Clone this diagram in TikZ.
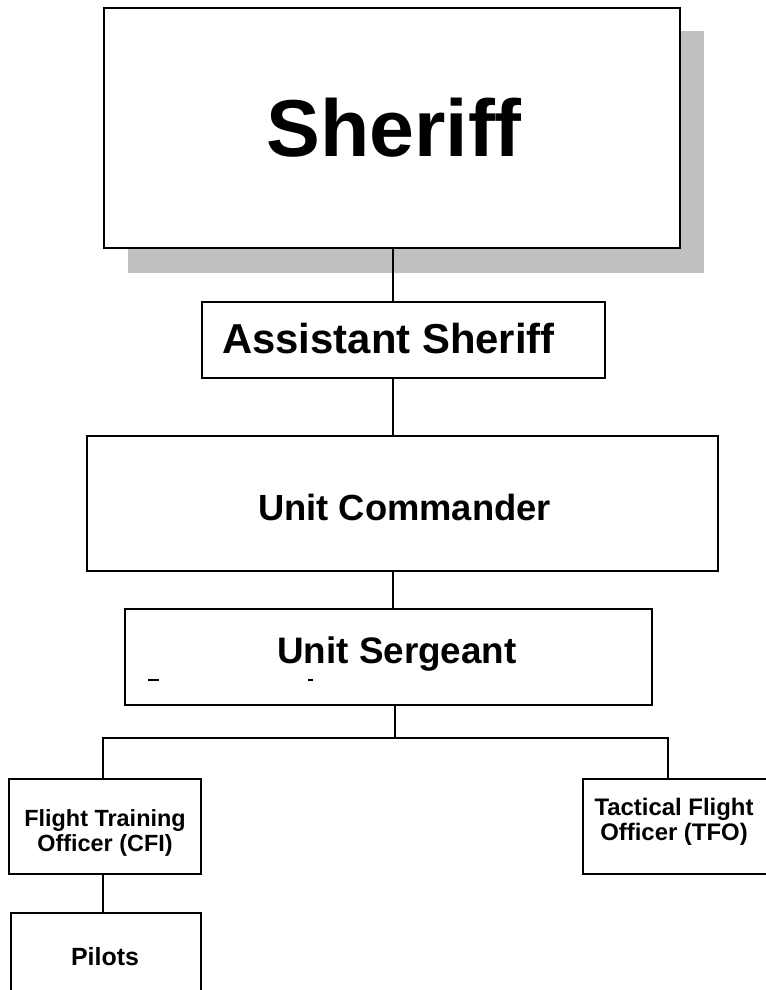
\documentclass[tikz,border=0pt]{standalone}
\usepackage{fontspec}
\setmainfont{Liberation Sans}
\definecolor{shadowgray}{HTML}{C0C0C0}
\tikzset{
  box/.style={draw=black, line width=2bp, fill=white},
  link/.style={draw=black, line width=1.5bp},
  lbl/.style={anchor=base, inner sep=0pt, font=\bfseries, align=center},
}
\begin{document}
\begin{tikzpicture}[x=1bp, y=-1bp]
\useasboundingbox (0,0) rectangle (766,990);
\clip (0,0) rectangle (766,990);
% shadow of Sheriff
\fill[shadowgray] (128,31) rectangle (704,273);
% boxes
\draw[box] (104,8) rectangle (680,248);
\draw[box] (202,302) rectangle (605,378);
\draw[box] (87,436) rectangle (718,571);
\draw[box] (125,609) rectangle (652,705);
\draw[box] (9,779) rectangle (201,874);
\draw[box] (583,779) rectangle (790,874);
\draw[box] (11,913) rectangle (201,1000);
% named anchor coordinates
\coordinate (sherB) at (393,248);
\coordinate (asstT) at (393,302);
\coordinate (asstB) at (393,378);
\coordinate (ucT) at (393,436);
\coordinate (ucB) at (393,571);
\coordinate (usT) at (393,609);
\coordinate (usB) at (395,705);
\coordinate (bus) at (395,738);
\coordinate (busL) at (103,738);
\coordinate (busR) at (668,738);
\coordinate (ftoT) at (103,779);
\coordinate (ftoB) at (103,874);
\coordinate (tfoT) at (668,779);
\coordinate (pilT) at (103,913);
% connectors
\draw[link] (sherB) -- (asstT);
\draw[link] (asstB) -- (ucT);
\draw[link] (ucB) -- (usT);
\draw[link] (usB) -- (bus);
\draw[link] (ftoT) -- (busL) -- (busR) -- (tfoT);
\draw[link] (ftoB) -- (pilT);
% labels
\node[lbl, font=\bfseries\fontsize{81}{90}\selectfont] (sheriff) at (394,156) {Sheriff};
\node[lbl, font=\bfseries\fontsize{42}{48}\selectfont] (asst) at (388.5,353) {Assistant Sheriff};
\node[lbl, font=\bfseries\fontsize{36.5}{42}\selectfont] (uc) at (404.5,520) {Unit Commander};
\node[lbl, font=\bfseries\fontsize{37}{42}\selectfont] (us) at (397,663) {Unit Sergeant};
\node[lbl, font=\bfseries\fontsize{23.5}{28}\selectfont] (fto1) at (105,826) {Flight Training};
\node[lbl, font=\bfseries\fontsize{23.5}{28}\selectfont] (fto2) at (105,851) {Officer (CFI)};
\node[lbl, font=\bfseries\fontsize{24}{28}\selectfont] (tfo1) at (674,815) {Tactical Flight};
\node[lbl, font=\bfseries\fontsize{24}{28}\selectfont] (tfo2) at (674,840) {Officer (TFO)};
\node[lbl, font=\bfseries\fontsize{25}{30}\selectfont] (pilots) at (105,965) {Pilots};
% clipped fragments of a hidden second line in Unit Sergeant box
\fill[black] (148,678.5) rectangle (159,680.5);
\fill[black] (308,678.5) rectangle (313,680.5);
\end{tikzpicture}
\end{document}
